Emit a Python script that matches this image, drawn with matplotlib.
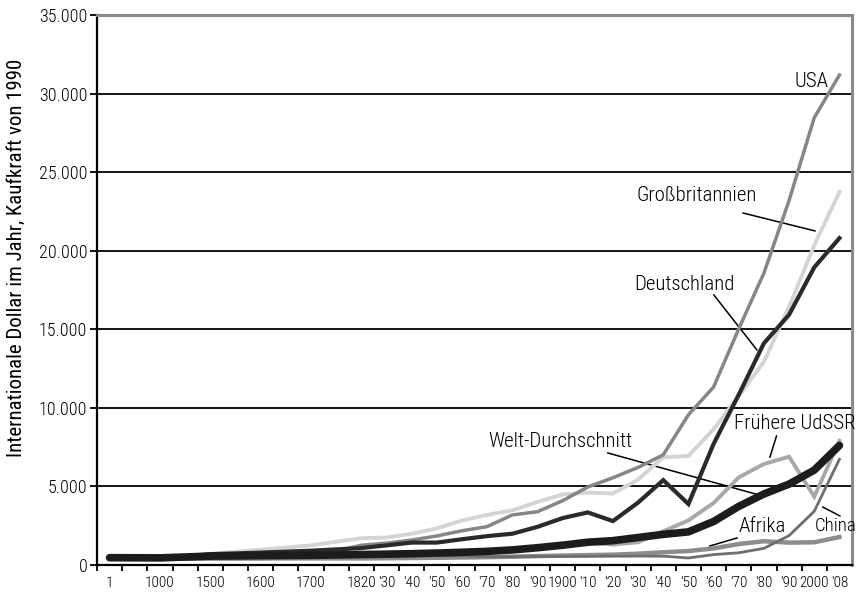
import matplotlib
matplotlib.use("Agg")
import matplotlib.pyplot as plt
import numpy as np

plt.rcParams['font.family'] = ['Roboto Condensed', 'DejaVu Sans']
plt.rcParams['font.weight'] = 'light'

# category axis, blank labels are empty categories
categories = ["1", "", "1000", "", "1500", "", "1600", "", "1700", "",
              "1820", "'30", "'40", "'50", "'60", "'70", "'80", "'90",
              "1900", "'10", "'20", "'30", "'40", "'50", "'60", "'70",
              "'80", "'90", "2000", "'08"]

# values per labelled category (1, 1000, 1500, 1600, 1700, 1820 ... 2008)
usa = [400, 400, 400, 400, 527, 1257, 1391, 1588, 1849, 2178, 2445, 3184, 3392,
       4091, 4964, 5552, 6213, 7010, 9561, 11328, 15030, 18577, 23201, 28467, 31178]
uk = [400, 400, 714, 974, 1250, 1706, 1749, 1990, 2330, 2830, 3190, 3477, 4009,
      4492, 4611, 4548, 5441, 6856, 6939, 8645, 10767, 12931, 16430, 20353, 23742]
deutschland = [400, 400, 688, 791, 910, 1077, 1250, 1428, 1428, 1639, 1839, 1991, 2428,
               2985, 3348, 2796, 3973, 5403, 3881, 7705, 10839, 14114, 15929, 18944, 20801]
welt = [467, 453, 566, 596, 615, 667, 690, 720, 760, 810, 870, 960, 1100,
        1260, 1450, 1550, 1750, 1950, 2110, 2770, 3730, 4520, 5150, 6040, 7610]
udssr = [400, 400, 499, 552, 611, 688, 720, 760, 820, 880, 943, 1000, 1100,
         1237, 1420, 1300, 1448, 2144, 2841, 3945, 5575, 6427, 6894, 4351, 7904]
china = [450, 466, 600, 600, 600, 600, 600, 600, 600, 580, 530, 535, 540,
         545, 552, 560, 568, 562, 448, 662, 778, 1061, 1871, 3421, 6725]
afrika = [472, 425, 414, 422, 421, 420, 430, 445, 460, 480, 500, 530, 570,
          601, 630, 660, 720, 813, 889, 1055, 1335, 1514, 1425, 1447, 1780]

xpos = [i for i, c in enumerate(categories) if c != ""]

fig = plt.figure(figsize=(8.6, 5.94), dpi=100)
ax = fig.add_axes([0.1128, 0.0488, 0.8779, 0.9259])

ax.set_ylim(0, 35000)
ax.set_xlim(-0.5, len(categories) - 0.5)
ax.yaxis.grid(True, color='black', lw=1.3)
ax.set_axisbelow(True)

ax.plot(xpos, afrika, color='#8c8c8c', lw=3.2, solid_joinstyle='miter', zorder=3)
ax.plot(xpos, china, color='#6e6e6e', lw=2.0, solid_joinstyle='miter', zorder=3)
ax.plot(xpos, udssr, color='#a8a8a8', lw=2.8, solid_joinstyle='miter', zorder=3)
ax.plot(xpos, uk, color='#d4d4d4', lw=2.8, solid_joinstyle='miter', zorder=3)
ax.plot(xpos, usa, color='#868686', lw=2.5, solid_joinstyle='miter', zorder=4)
ax.plot(xpos, deutschland, color='#2a2a2a', lw=3.0, solid_joinstyle='miter', zorder=5)
ax.plot(xpos, welt, color='#1c1c1c', lw=5.5, solid_capstyle='round', zorder=6)

# ticks and labels
ax.set_yticks(np.arange(0, 35001, 5000))
ax.set_yticklabels(["0" if v == 0 else f"{v // 1000}.000" for v in range(0, 35001, 5000)],
                   fontsize=13)
ax.set_xticks(np.arange(len(categories)) - 0.5, minor=False)
ax.set_xticklabels([])
ax.set_xticks(np.arange(len(categories)), minor=True)
ax.set_xticklabels(categories, minor=True, fontsize=11)
ax.tick_params(axis='x', which='major', direction='out', length=4, width=1.3, color='black')
ax.tick_params(axis='x', which='minor', length=0, pad=8)
ax.tick_params(axis='y', direction='out', length=5, width=1.3, pad=2)

ax.set_ylabel("Internationale Dollar im Jahr, Kaufkraft von 1990", fontsize=15)
ax.yaxis.set_label_coords(-0.094, 0.558)

for side in ['left', 'bottom']:
    ax.spines[side].set_color('black')
    ax.spines[side].set_linewidth(1.6)
for side in ['top', 'right']:
    ax.spines[side].set_color('#8a8a8a')
    ax.spines[side].set_linewidth(2.2)

# labels with leader lines (data coords)
fs = 15
ax.text(27.9, 30750, "USA", fontsize=fs, ha='center', va='center')
ax.text(23.34, 23500, "Großbritannien", fontsize=fs, ha='center', va='center')
ax.plot([25.17, 28.03], [22400, 21260], color='black', lw=1.1)
ax.text(22.86, 17820, "Deutschland", fontsize=fs, ha='center', va='center')
ax.plot([24.01, 25.72], [17190, 13690], color='black', lw=1.1)
ax.text(17.9, 7890, "Welt-Durchschnitt", fontsize=fs, ha='center', va='center')
ax.plot([19.8, 25.8], [7130, 4460], color='black', lw=1.1)
ax.text(27.23, 8980, "Frühere UdSSR", fontsize=fs, ha='center', va='center')
ax.plot([26.5, 26.24], [8210, 6870], color='black', lw=1.1)
ax.text(25.92, 2480, "Afrika", fontsize=fs, ha='center', va='center')
ax.plot([24.93, 23.85], [1720, 1210], color='black', lw=1.1)
ax.text(28.86, 2480, "China", fontsize=fs - 1.5, ha='center', va='center')
ax.plot([29.02, 28.34], [3120, 3690], color='black', lw=1.1)

fig.savefig("out.png", dpi=100)
